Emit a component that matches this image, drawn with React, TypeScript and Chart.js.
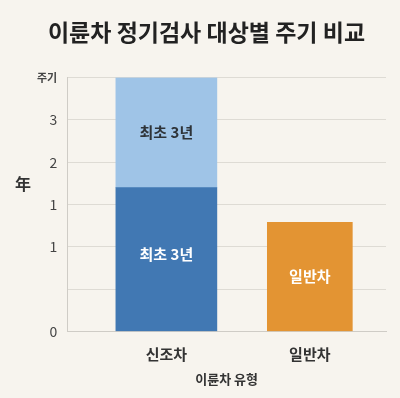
import React, { useEffect, useRef } from "react";
import { Chart, registerables } from "chart.js";

Chart.register(...registerables);

const TITLE = "이륜차 정기검사 대상별 주기 비교";
const categories = ["신조차", "일반차"];
const yTickLabels = ["0", "", "1", "1", "2", "3", "주기"];
const Y_TITLE = "年";
const X_TITLE = "이륜차 유형";
const newFirstValues = [3.4];
const newSecondValues = [2.6];
const generalValues = [2.58];
const newFirstLabel = "최초 3년";
const newSecondLabel = "최초 3년";
const generalLabel = "일반차";
const FONT = "'Noto Sans CJK KR', 'Noto Sans', sans-serif";

const barLabelPlugin = {
  id: "barLabels",
  afterDatasetsDraw(chart: any) {
    const ctx = chart.ctx;
    chart.data.datasets.forEach((ds: any, di: number) => {
      const meta = chart.getDatasetMeta(di);
      meta.data.forEach((el: any) => {
        const cy = (el.y + el.base) / 2;
        ctx.save();
        ctx.font = `bold 15px ${FONT}`;
        ctx.fillStyle = ds.labelColor;
        ctx.textAlign = "center";
        ctx.textBaseline = "middle";
        ctx.fillText(ds.barText, el.x, cy + (ds.labelOffset || 0));
        ctx.restore();
      });
    });
  },
};

const yTitlePlugin = {
  id: "yTitleUpright",
  afterDraw(chart: any) {
    const ctx = chart.ctx;
    const area = chart.chartArea;
    ctx.save();
    ctx.font = `bold 16px ${FONT}`;
    ctx.fillStyle = "#333333";
    ctx.textAlign = "center";
    ctx.textBaseline = "middle";
    ctx.fillText(Y_TITLE, 23, (area.top + area.bottom) / 2 - 21);
    ctx.restore();
  },
};

export default function App() {
  const ref = useRef<HTMLCanvasElement | null>(null);
  useEffect(() => {
    if (!ref.current) return;
    const chart = new Chart(ref.current, {
      type: "bar",
      data: {
        datasets: [
          {
            label: "new1",
            data: newFirstValues.map((v) => ({ x: 0, y: v })),
            backgroundColor: "#4178b3",
            barThickness: 101,
            barText: newFirstLabel,
            labelColor: "#ffffff",
            labelOffset: -5,
          } as any,
          {
            label: "new2",
            data: newSecondValues.map((v) => ({ x: 0, y: v })),
            backgroundColor: "#9fc4e7",
            barThickness: 101,
            barText: newSecondLabel,
            labelColor: "#2e3338",
          } as any,
          {
            label: "general",
            data: generalValues.map((v) => ({ x: 1, y: v })),
            backgroundColor: "#e39433",
            barThickness: 85,
            barText: generalLabel,
            labelColor: "#ffffff",
          } as any,
        ],
      },
      options: {
        animation: false,
        responsive: false,
        maintainAspectRatio: false,
        layout: { padding: { left: 27, right: 14, top: 0, bottom: 11 } },
        plugins: {
          legend: { display: false },
          tooltip: { enabled: false },
          title: {
            display: true,
            text: TITLE,
            color: "#222222",
            font: { family: FONT, size: 23, weight: "bold" },
            padding: { top: 18, bottom: 32 },
          },
        },
        scales: {
          x: {
            type: "linear",
            stacked: true,
            offset: false,
            bounds: "data",
            min: -0.691,
            max: 1.531,
            afterBuildTicks: (scale: any) => {
              scale.ticks = categories.map((_, i) => ({ value: i }));
            },
            ticks: {
              callback: (v: any) => categories[v] ?? "",
              color: "#333333",
              font: { family: FONT, size: 15, weight: "bold" },
              padding: 6,
            },
            grid: { display: false },
            border: { display: true, color: "#cfccc6" },
            title: {
              display: true,
              text: X_TITLE,
              color: "#333333",
              font: { family: FONT, size: 13, weight: "bold" },
              padding: { top: 2, bottom: 0 },
            },
          },
          y: {
            stacked: true,
            min: 0,
            max: 6,
            afterBuildTicks: (scale: any) => {
              scale.ticks = yTickLabels.map((_, i) => ({ value: i }));
            },
            ticks: {
              callback: (v: any) => yTickLabels[v] ?? "",
              color: "#444444",
              font: (c: any) =>
                c.tick && c.tick.value === 6
                  ? { family: FONT, size: 11, weight: "bold" }
                  : { family: FONT, size: 14 },
              padding: 10,
            },
            grid: { color: "#dedbd4", drawTicks: false },
            border: { display: true, color: "#cfccc6" },
          },
        },
      } as any,
      plugins: [barLabelPlugin, yTitlePlugin],
    });
    return () => chart.destroy();
  }, []);
  return (
    <div
      style={{
        position: "fixed",
        left: 0,
        top: 0,
        width: 400,
        height: 398,
        background: "#f7f4ee",
      }}
    >
      <canvas ref={ref} width={400} height={398} style={{ display: "block" }} />
    </div>
  );
}
